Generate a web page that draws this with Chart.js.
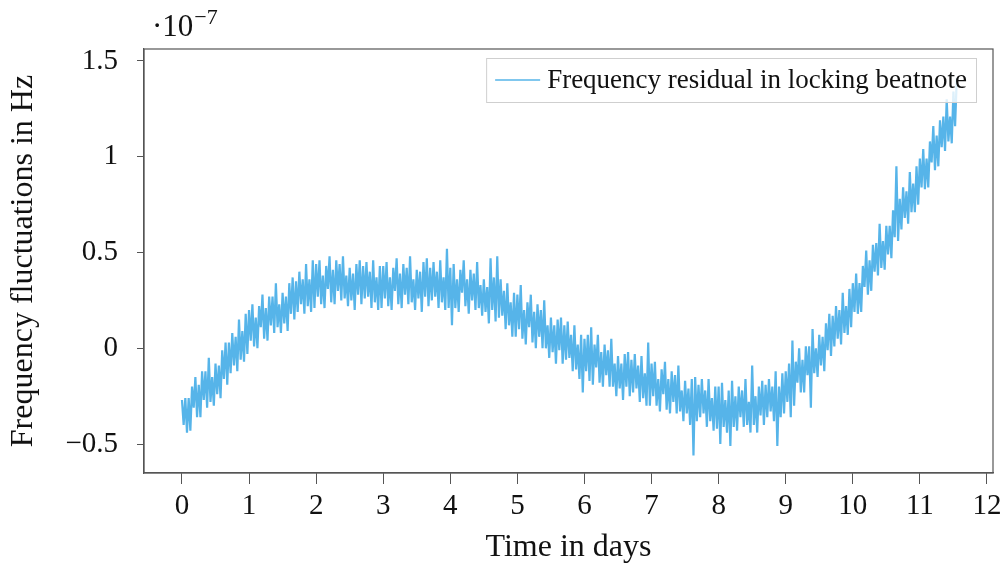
<!DOCTYPE html>
<html>
<head>
<meta charset="utf-8">
<script src="https://cdn.jsdelivr.net/npm/chart.js@4/dist/chart.umd.min.js"></script>
<style>
  html, body { margin: 0; padding: 0; background: #fff; }
  canvas { display: block; }
</style>
</head>
<body>
<canvas id="chart" width="1008" height="567"></canvas>
<script>
// frequency residual, in units of 1e-7 Hz, one sample every 0.025 days
const dayStep = 0.025;
const day00 = [-0.27,-0.40,-0.26,-0.44,-0.26,-0.43,-0.20,-0.31,-0.15,-0.36,
  -0.19,-0.36,-0.12,-0.27,-0.12,-0.31,-0.05,-0.28,-0.15,-0.30,
  -0.08,-0.24,-0.09,-0.26,-0.01,-0.16,0.03,-0.19,0.03,-0.13,
  0.08,-0.09,0.06,-0.12,0.15,-0.06,0.09,-0.07,0.18,-0.03];
const day01 = [0.20,0.04,0.23,0.01,0.16,0.00,0.22,0.11,0.28,0.05,
  0.21,0.04,0.27,0.12,0.27,0.08,0.34,0.11,0.23,0.08,
  0.29,0.13,0.27,0.09,0.34,0.18,0.37,0.15,0.35,0.19,
  0.40,0.23,0.36,0.18,0.44,0.22,0.36,0.19,0.46,0.21];
const day02 = [0.44,0.27,0.46,0.23,0.38,0.21,0.43,0.31,0.48,0.24,
  0.41,0.23,0.46,0.30,0.44,0.25,0.48,0.26,0.38,0.22,
  0.42,0.25,0.39,0.20,0.44,0.28,0.46,0.23,0.43,0.26,
  0.45,0.27,0.40,0.21,0.46,0.24,0.37,0.20,0.43,0.21];
const day03 = [0.43,0.26,0.45,0.22,0.37,0.20,0.42,0.30,0.47,0.23,
  0.39,0.21,0.44,0.28,0.42,0.23,0.48,0.24,0.36,0.20,
  0.41,0.26,0.40,0.19,0.45,0.27,0.47,0.22,0.42,0.25,
  0.45,0.27,0.40,0.21,0.46,0.24,0.37,0.20,0.52,0.21];
const day04 = [0.42,0.12,0.44,0.21,0.36,0.19,0.41,0.29,0.46,0.22,
  0.36,0.18,0.41,0.25,0.39,0.20,0.45,0.21,0.33,0.17,
  0.36,0.19,0.32,0.13,0.47,0.20,0.37,0.14,0.48,0.16,
  0.36,0.17,0.30,0.10,0.34,0.12,0.24,0.06,0.29,0.06];
const day05 = [0.28,0.10,0.33,0.05,0.20,0.02,0.24,0.11,0.28,0.03,
  0.19,0.00,0.23,0.06,0.20,0.00,0.25,0.00,0.12,-0.05,
  0.16,-0.02,0.12,-0.08,0.15,-0.01,0.16,-0.08,0.12,-0.06,
  0.14,-0.05,0.07,-0.12,0.12,-0.11,0.02,-0.16,0.07,-0.23];
const day06 = [0.05,-0.12,0.07,-0.17,0.11,-0.19,0.02,-0.10,0.07,-0.18,
  -0.02,-0.20,0.02,-0.14,-0.01,-0.20,0.05,-0.20,-0.08,-0.25,
  -0.04,-0.21,-0.08,-0.27,-0.03,-0.20,-0.02,-0.25,-0.06,-0.23,
  -0.03,-0.21,-0.09,-0.28,-0.04,-0.26,-0.13,-0.30,0.03,-0.30];
const day07 = [-0.08,-0.25,-0.07,-0.30,-0.16,-0.33,-0.11,-0.24,-0.07,-0.32,
  -0.16,-0.34,-0.12,-0.28,-0.14,-0.34,-0.09,-0.33,-0.22,-0.38,
  -0.17,-0.34,-0.21,-0.40,-0.16,-0.56,-0.15,-0.38,-0.19,-0.36,
  -0.16,-0.34,-0.22,-0.41,-0.16,-0.38,-0.26,-0.43,-0.20,-0.42];
const day08 = [-0.20,-0.50,-0.18,-0.41,-0.27,-0.44,-0.22,-0.51,-0.17,-0.41,
  -0.25,-0.43,-0.20,-0.36,-0.22,-0.41,-0.16,-0.40,-0.28,-0.44,
  -0.09,-0.40,-0.25,-0.44,-0.20,-0.35,-0.17,-0.40,-0.19,-0.36,
  -0.16,-0.33,-0.20,-0.38,-0.12,-0.51,-0.20,-0.36,-0.13,-0.34];
const day09 = [-0.12,-0.28,-0.08,-0.36,0.04,-0.30,-0.07,-0.18,0.00,-0.23,
  -0.06,-0.23,0.01,-0.14,0.01,-0.31,0.10,-0.13,0.00,-0.15,
  0.07,-0.09,0.06,-0.12,0.13,-0.01,0.18,-0.04,0.17,0.01,
  0.22,0.05,0.20,0.02,0.29,0.08,0.22,0.07,0.31,0.11];
const day10 = [0.34,0.19,0.39,0.18,0.34,0.19,0.43,0.32,0.51,0.28,
  0.46,0.30,0.54,0.40,0.55,0.38,0.65,0.42,0.56,0.41,
  0.64,0.49,0.64,0.47,0.72,0.58,0.95,0.56,0.78,0.62,
  0.84,0.68,0.82,0.65,0.92,0.71,0.86,0.71,0.95,0.75];
const day11 = [0.99,0.84,1.04,0.83,0.99,0.84,1.08,0.97,1.16,0.93,
  1.11,0.95,1.19,1.05,1.21,1.03,1.30,1.08,1.21,1.07,
  1.34,1.16,1.41];

const days = [day00, day01, day02, day03, day04, day05, day06, day07, day08, day09, day10, day11];
const xTicks = [0, 1, 2, 3, 4, 5, 6, 7, 8, 9, 10, 11, 12];
const yTicks = [-0.5, 0, 0.5, 1, 1.5];
const seriesLabel = 'Frequency residual in locking beatnote';

const points = [];
days.forEach((vals, d) => {
  vals.forEach((v, i) => points.push({ x: d + i * dayStep, y: v }));
});

const FONT = "'Liberation Serif', 'Times New Roman', serif";
const LINE = '#56B4E9';
const AXIS = '#555';

const fmt = v => (v < 0 ? '\u2212' + Math.abs(v) : String(v));

// frame, legend and exponent label, pgfplots style
const decor = {
  id: 'decor',
  afterDatasetsDraw(chart) {
    const { ctx, chartArea: a } = chart;
    ctx.save();
    ctx.strokeStyle = AXIS;
    ctx.lineWidth = 1.2;
    ctx.strokeRect(a.left, a.top, a.right - a.left, a.bottom - a.top);

    // legend box
    ctx.font = '27px ' + FONT;
    const tw = ctx.measureText(seriesLabel).width;
    const bw = tw + 70, bh = 44;
    const bx = a.right - 17 - bw, by = a.top + 9;
    ctx.fillStyle = 'rgba(255,255,255,0.8)';
    ctx.fillRect(bx, by, bw, bh);
    ctx.strokeStyle = '#cfcfcf';
    ctx.lineWidth = 1;
    ctx.strokeRect(bx + 0.5, by + 0.5, bw, bh);
    ctx.strokeStyle = LINE;
    ctx.lineWidth = 1.4;
    ctx.beginPath();
    ctx.moveTo(bx + 9, by + bh / 2);
    ctx.lineTo(bx + 54, by + bh / 2);
    ctx.stroke();
    ctx.fillStyle = '#111';
    ctx.textBaseline = 'middle';
    ctx.fillText(seriesLabel, bx + 61, by + bh / 2 + 1);

    // scale factor
    ctx.textBaseline = 'alphabetic';
    ctx.font = '31px ' + FONT;
    ctx.fillText('\u00b710', a.left + 8, 36);
    const w = ctx.measureText('\u00b710').width;
    ctx.font = '22px ' + FONT;
    ctx.fillText('\u22127', a.left + 8 + w + 1, 24);
    ctx.restore();
  }
};

new Chart(document.getElementById('chart'), {
  type: 'line',
  data: {
    datasets: [{
      label: seriesLabel,
      data: points,
      borderColor: LINE,
      borderWidth: 2.2,
      pointRadius: 0,
      tension: 0,
      fill: false
    }]
  },
  options: {
    responsive: false,
    animation: false,
    layout: { padding: { top: 49, right: 15, left: 0, bottom: 0 } },
    plugins: { legend: { display: false }, tooltip: { enabled: false } },
    scales: {
      x: {
        type: 'linear',
        min: -0.566,
        max: 12.09,
        afterBuildTicks: s => { s.ticks = xTicks.map(v => ({ value: v })); },
        afterFit: s => { s.height = 94; },
        grid: { drawOnChartArea: false, drawTicks: true, tickLength: 11, color: AXIS, lineWidth: 1 },
        border: { display: true, color: AXIS, width: 1.2 },
        ticks: { color: '#111', font: { family: FONT, size: 29 }, padding: 5, maxRotation: 0, callback: fmt },
        title: { display: true, text: 'Time in days', color: '#111', font: { family: FONT, size: 32 }, padding: { top: 0, bottom: 0 } }
      },
      y: {
        type: 'linear',
        min: -0.651,
        max: 1.5625,
        afterBuildTicks: s => { s.ticks = yTicks.map(v => ({ value: v })); },
        afterFit: s => { s.width = 144; },
        grid: { drawOnChartArea: false, drawTicks: true, tickLength: 7, color: AXIS, lineWidth: 1 },
        border: { display: true, color: AXIS, width: 1.2 },
        ticks: { color: '#111', font: { family: FONT, size: 29 }, padding: 19, callback: fmt },
        title: { display: true, text: 'Frequency fluctuations in Hz', color: '#111', font: { family: FONT, size: 32 }, padding: { top: 4, bottom: 0 } }
      }
    }
  },
  plugins: [decor]
});
</script>
</body>
</html>
